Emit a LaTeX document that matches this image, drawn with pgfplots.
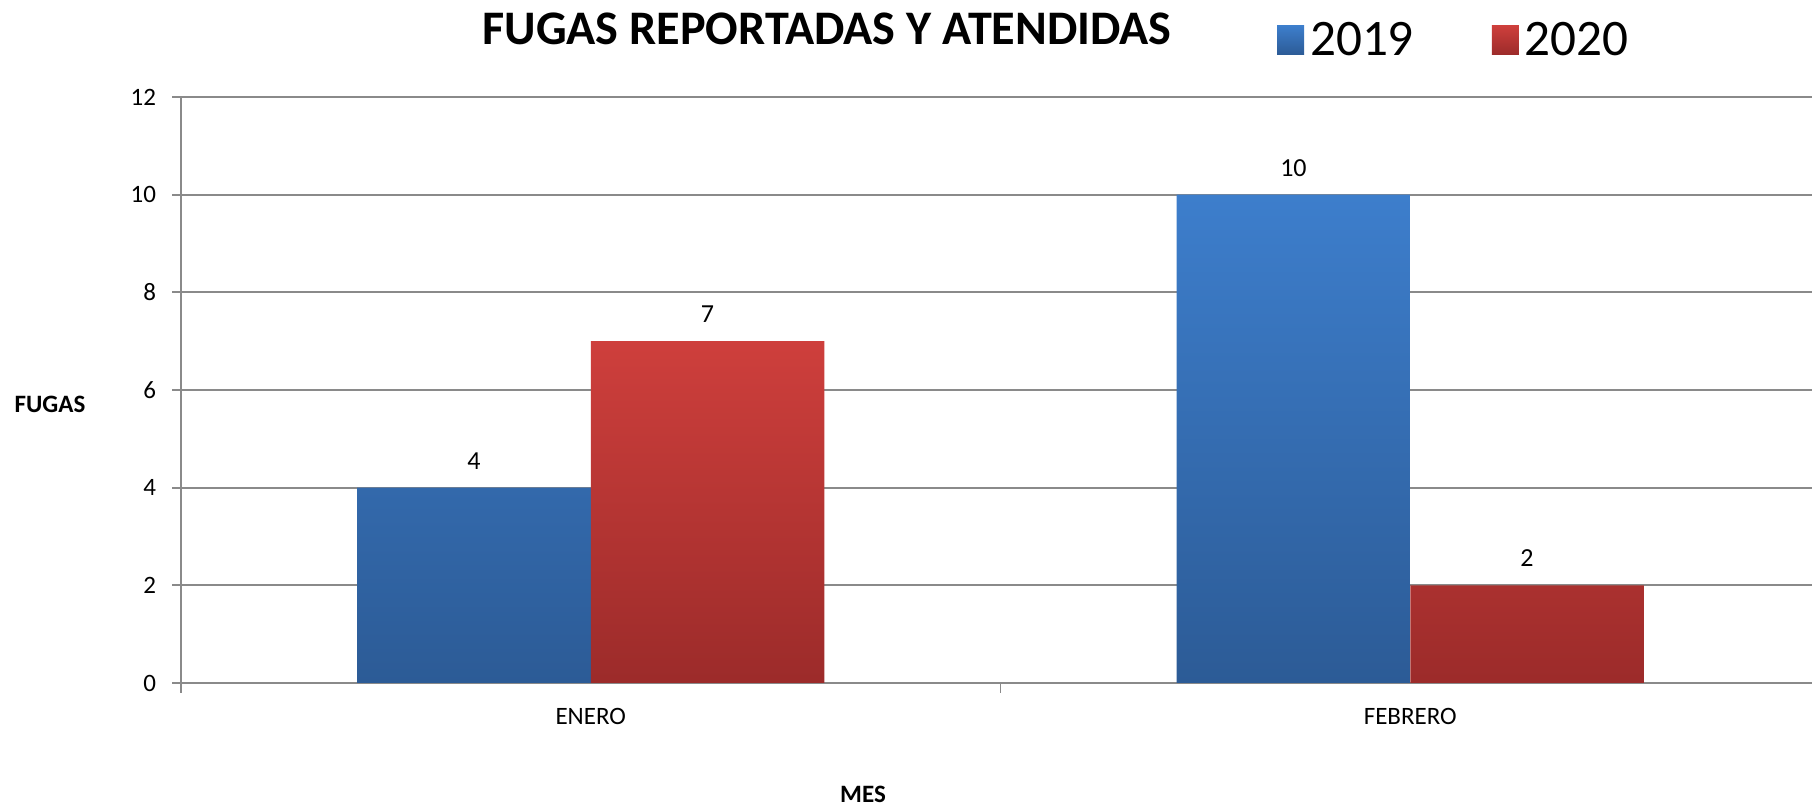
\documentclass[border=0pt]{standalone}
\usepackage{pgfplots}
\pgfplotsset{compat=1.18}
\usepackage{fontspec}
\setmainfont{Carlito}
\definecolor{gridgray}{HTML}{8A8A8A}
\definecolor{bluetop}{HTML}{3D7ECC}
\definecolor{bluebot}{HTML}{2C5B96}
\definecolor{redtop}{HTML}{CE3F3C}
\definecolor{redbot}{HTML}{9C2B2A}
\begin{document}
\begin{tikzpicture}
\useasboundingbox (0,0) rectangle (906pt,403pt);
\begin{axis}[
  at={(90.5pt,61.5pt)}, anchor=south west,
  scale only axis, width=819.5pt, height=293pt,
  ybar=0pt, bar width=0.285,
  xmin=-0.5, xmax=1.5, ymin=0, ymax=12,
  axis x line*=bottom, axis y line*=left,
  axis line style={gridgray, line width=0.9pt},
  xtick={0,1}, xticklabels={ENERO,FEBRERO},
  minor xtick={-0.5,0.5,1.5},
  major x tick style={draw=none},
  minor x tick style={gridgray, line width=0.6pt},
  minor tick length=5pt,
  ytick={0,2,...,12},
  ytick style={gridgray, line width=0.9pt},
  major tick length=4.5pt,
  tick align=outside,
  ymajorgrids, grid style={gridgray, line width=0.9pt},
  tick label style={font=\fontsize{12.5}{15}\selectfont},
  xticklabel style={yshift=-4.5pt},
  yticklabel style={xshift=-4.5pt},
  /pgf/number format/assume math mode=true,
  nodes near coords,
  every node near coord/.append style={font=\fontsize{13}{15}\selectfont, yshift=5.7pt, black},
  legend columns=2,
  legend style={draw=none, fill=none, at={(axis description cs:0.6685,1.097)}, anchor=west,
    font=\fontsize{25.6}{30}\selectfont, inner xsep=0pt, nodes={inner xsep=3pt},
    /tikz/every even column/.append style={column sep=36pt}},
  legend image code/.code={\path[#1, draw=none] (0pt,-7.25pt) rectangle (13.5pt,7.25pt);},
  clip=false,
]
\addplot[draw=none, top color=bluetop, bottom color=bluebot] coordinates {(0,4) (1,10)};
\addplot[draw=none, top color=redtop, bottom color=redbot] coordinates {(0,7) (1,2)};
\legend{2019,2020}
\end{axis}
\node[font=\fontsize{24.1}{30}\selectfont\bfseries] at (413.5pt,388.5pt) {FUGAS REPORTADAS Y ATENDIDAS};
\node[font=\fontsize{12.5}{15}\selectfont\bfseries] at (25pt,201pt) {FUGAS};
\node[font=\fontsize{12.5}{15}\selectfont\bfseries] at (431.5pt,6pt) {MES};
\end{tikzpicture}
\end{document}
